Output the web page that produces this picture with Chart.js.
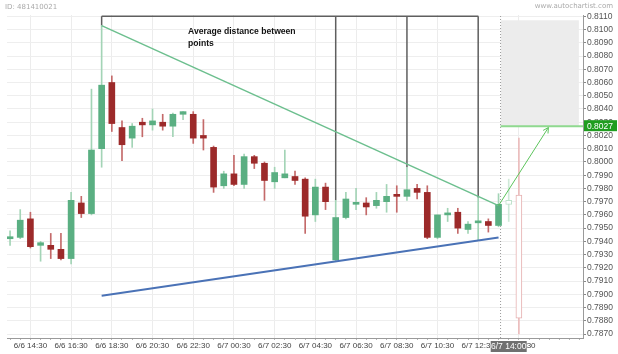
<!DOCTYPE html>
<html>
<head>
<meta charset="utf-8">
<script src="https://cdn.jsdelivr.net/npm/chart.js@4.4.1/dist/chart.umd.min.js"></script>
<style>
  html, body { margin: 0; padding: 0; background: #fff; }
  #wrap { width: 618px; height: 354px; position: relative; }
</style>
</head>
<body>
<div id="wrap"><canvas id="priceChart" width="618" height="354"></canvas></div>
<script>
// --- données (bougies 30 min, 6/6 13:30 -> 6/7 13:30) ---
const opens  = [0.7942, 0.7943, 0.7957, 0.7937, 0.7937, 0.7934, 0.7927, 0.7969, 0.7961, 0.8010,
                0.8060, 0.8026, 0.8018, 0.8030, 0.8028, 0.8030, 0.8027, 0.8036, 0.8036, 0.8020,
                0.8011, 0.7982, 0.7991, 0.7983, 0.8004, 0.7999, 0.7985, 0.7988, 0.7989, 0.7987,
                0.7960, 0.7981, 0.7926, 0.7958, 0.7968, 0.7969, 0.7967, 0.7970, 0.7975, 0.7974,
                0.7980, 0.7977, 0.7943, 0.7960, 0.7962, 0.7949, 0.7954, 0.7955, 0.7952];
const highs  = [0.7948, 0.7964, 0.7962, 0.7940, 0.7946, 0.7946, 0.7977, 0.7974, 0.8055, 0.8103,
                0.8065, 0.8031, 0.8029, 0.8033, 0.8040, 0.8036, 0.8037, 0.8038, 0.8038, 0.8032,
                0.8012, 0.7993, 0.8005, 0.8006, 0.8005, 0.8000, 0.7996, 0.8009, 0.7993, 0.7988,
                0.7987, 0.7984, 0.7971, 0.7977, 0.7980, 0.7973, 0.7977, 0.7983, 0.7982, 0.7996,
                0.7983, 0.7982, 0.7960, 0.7965, 0.7965, 0.7955, 0.7973, 0.7957, 0.7976];
const lows   = [0.7937, 0.7942, 0.7935, 0.7925, 0.7927, 0.7926, 0.7923, 0.7958, 0.7960, 0.7996,
                0.8023, 0.8001, 0.8011, 0.8019, 0.8024, 0.8024, 0.8019, 0.8032, 0.8014, 0.8009,
                0.7977, 0.7980, 0.7982, 0.7980, 0.7995, 0.7971, 0.7980, 0.7988, 0.7983, 0.7946,
                0.7955, 0.7964, 0.7925, 0.7957, 0.7964, 0.7960, 0.7965, 0.7962, 0.7962, 0.7971,
                0.7972, 0.7942, 0.7942, 0.7955, 0.7946, 0.7946, 0.7941, 0.7947, 0.7951];
const closes = [0.7943, 0.7956, 0.7936, 0.7939, 0.7934, 0.7927, 0.7971, 0.7961, 0.8009, 0.8058,
                0.8029, 0.8013, 0.8027, 0.8028, 0.8031, 0.8027, 0.8036, 0.8038, 0.8018, 0.8018,
                0.7981, 0.7991, 0.7983, 0.8004, 0.7999, 0.7986, 0.7992, 0.7991, 0.7986, 0.7959,
                0.7981, 0.7970, 0.7958, 0.7972, 0.7969, 0.7966, 0.7971, 0.7974, 0.7974, 0.7979,
                0.7977, 0.7943, 0.7960, 0.7961, 0.7950, 0.7953, 0.7955, 0.7952, 0.7968];

// bougies "fantômes" après 6/7 14:00
const ghostOpens  = [0.7968, 0.7975];
const ghostHighs  = [0.7987, 0.8018];
const ghostLows   = [0.7955, 0.7870];
const ghostCloses = [0.7971, 0.7882];

// lignes du triangle (x = index de bougie)
const upperTrend = [{ x: 9, y: 0.8103 }, { x: 48, y: 0.7967 }];
const lowerTrend = [{ x: 9, y: 0.7899 }, { x: 48, y: 0.7943 }];
const pointLines = [
  [{ x: 9, y: 0.8110 }, { x: 9, y: 0.8103 }],
  [{ x: 32, y: 0.8110 }, { x: 32, y: 0.7971 }],
  [{ x: 39, y: 0.8110 }, { x: 39, y: 0.7996 }],
  [{ x: 46, y: 0.8110 }, { x: 46, y: 0.7973 }]
];
const topLine = [{ x: 9, y: 0.8110 }, { x: 46, y: 0.8110 }];
const forecastArrow = [{ x: 48, y: 0.7967 }, { x: 52.9, y: 0.8026 }];
const targetPrice = 0.8027;
const forecastZoneTop = 0.8107;
const nowIndex = 48.2;

// axes
const xTickIndex  = [2, 6, 10, 14, 18, 22, 26, 30, 34, 38, 42, 46, 50];
const xTickLabels = ['6/6 14:30', '6/6 16:30', '6/6 18:30', '6/6 20:30', '6/6 22:30', '6/7 00:30',
                     '6/7 02:30', '6/7 04:30', '6/7 06:30', '6/7 08:30', '6/7 10:30', '6/7 12:30', '6/7 14:30'];
const yTicks = [0.7870, 0.7880, 0.7890, 0.7900, 0.7910, 0.7920, 0.7930, 0.7940, 0.7950, 0.7960,
                0.7970, 0.7980, 0.7990, 0.8000, 0.8010, 0.8020, 0.8030, 0.8040, 0.8050, 0.8060,
                0.8070, 0.8080, 0.8090, 0.8100, 0.8110];
const nowLabel = '6/7 14:00';

const X_MIN = -0.3, X_MAX = 56.3;
const Y_MIN = 0.7867, Y_MAX = 0.8111;

const GREEN = '#5aaf82', RED = '#9c2a2a';
const GREEN_WICK = '#a3d4b6', RED_WICK = '#c46a6a';

const bodies = opens.map((o, i) => ({ x: i, y: [o, closes[i]] }));
const wicks = highs.map((h, i) => ({ x: i, y: [lows[i], h] }));
const ghostBodies = ghostOpens.map((o, i) => ({ x: 49 + i, y: [o, ghostCloses[i]] }));
const ghostWicks = ghostHighs.map((h, i) => ({ x: 49 + i, y: [ghostLows[i], h] }));

function isUp(i) { return closes[i] >= opens[i]; }
function ghostUp(i) { return ghostCloses[i] >= ghostOpens[i]; }

function lineSet(data, color, width, order, extra) {
  return Object.assign({
    type: 'line', data: data, borderColor: color, borderWidth: width,
    pointRadius: 0, fill: false, tension: 0, order: order
  }, extra || {});
}

// --- textes, étiquettes et flèche ---
const overlayPlugin = {
  id: 'overlay',
  afterDraw(chart) {
    const c = chart.ctx;
    const xs = chart.scales.x, ys = chart.scales.y;
    c.save();

    // tête de flèche
    const p0 = { x: xs.getPixelForValue(forecastArrow[0].x), y: ys.getPixelForValue(forecastArrow[0].y) };
    const p1 = { x: xs.getPixelForValue(forecastArrow[1].x), y: ys.getPixelForValue(forecastArrow[1].y) };
    const ang = Math.atan2(p1.y - p0.y, p1.x - p0.x);
    c.strokeStyle = '#5cc45c';
    c.lineWidth = 1;
    c.beginPath();
    c.moveTo(p1.x - 6 * Math.cos(ang - 0.5), p1.y - 6 * Math.sin(ang - 0.5));
    c.lineTo(p1.x, p1.y);
    c.lineTo(p1.x - 6 * Math.cos(ang + 0.5), p1.y - 6 * Math.sin(ang + 0.5));
    c.stroke();

    // étiquette du prix cible
    const ty = ys.getPixelForValue(targetPrice);
    c.fillStyle = '#1f9d1f';
    c.fillRect(chart.chartArea.right + 1, ty - 6, 33, 11);
    c.fillStyle = '#fff';
    c.font = '8.5px "Liberation Sans", Arial, sans-serif';
    c.textBaseline = 'middle';
    c.textAlign = 'left';
    c.fillText(targetPrice.toFixed(4), chart.chartArea.right + 4, ty);

    // étiquette "maintenant" sur l'axe x
    const nx = xs.getPixelForValue(49);
    c.fillStyle = '#707070';
    c.fillRect(nx - 18, chart.chartArea.bottom + 3, 36, 11);
    c.fillStyle = '#fff';
    c.textAlign = 'center';
    c.fillText(nowLabel, nx, chart.chartArea.bottom + 9);

    // annotation
    c.fillStyle = '#111';
    c.font = 'bold 8.6px "Liberation Sans", Arial, sans-serif';
    c.textAlign = 'left';
    c.fillText('Average distance between', 188, 32);
    c.fillText('points', 188, 44);

    // textes d'en-tête
    c.fillStyle = '#aaa';
    c.font = '7px "DejaVu Sans", sans-serif';
    c.fillText('ID: 481410021', 5, 7);
    c.textAlign = 'right';
    c.fillText('www.autochartist.com', 613, 6);
    c.restore();
  }
};

document.addEventListener('DOMContentLoaded', function() {
  const canvas = document.getElementById('priceChart');
  const ctx = canvas.getContext('2d');

  new Chart(ctx, {
    type: 'bar',
    data: {
      datasets: [
        // zone de prévision grise
        lineSet([{ x: nowIndex, y: forecastZoneTop }, { x: 55.9, y: forecastZoneTop }], 'rgba(0,0,0,0)', 0, 20,
                { fill: { value: targetPrice }, backgroundColor: '#ececec' }),
        // ligne pointillée "maintenant"
        lineSet([{ x: nowIndex, y: Y_MIN }, { x: nowIndex, y: Y_MAX }], '#9a9a9a', 1, 19, { borderDash: [1, 2] }),
        // lignes des points
        lineSet(topLine, '#5f5f5f', 1.5, 15),
        lineSet(pointLines[0], '#5f5f5f', 1.5, 15),
        lineSet(pointLines[1], '#5f5f5f', 1.5, 15),
        lineSet(pointLines[2], '#5f5f5f', 1.5, 15),
        lineSet(pointLines[3], '#5f5f5f', 1.5, 15),
        {
          type: 'bar', data: ghostWicks, grouped: false, barThickness: 1, order: 12,
          backgroundColor: ctx => ghostUp(ctx.dataIndex) ? '#cfe9d8' : '#ebbcbc'
        },
        {
          type: 'bar', data: ghostBodies, grouped: false, barThickness: 6, order: 11,
          backgroundColor: '#fff', borderWidth: 1, borderSkipped: false, minBarLength: 2,
          borderColor: ctx => ghostUp(ctx.dataIndex) ? '#bfe2cb' : '#e6b0b0'
        },
        {
          type: 'bar', data: wicks, grouped: false, barThickness: 1, order: 6,
          backgroundColor: ctx => isUp(ctx.dataIndex) ? GREEN_WICK : RED_WICK
        },
        {
          type: 'bar', data: bodies, grouped: false, barThickness: 6, order: 5, minBarLength: 2,
          backgroundColor: ctx => isUp(ctx.dataIndex) ? GREEN : RED
        },
        // triangle
        lineSet(upperTrend, '#6cbf8e', 1.5, 2),
        lineSet(lowerTrend, '#4a72b6', 2, 2),
        // cible
        lineSet([{ x: nowIndex, y: targetPrice }, { x: X_MAX, y: targetPrice }], '#8fd98f', 2, 3),
        lineSet(forecastArrow, '#5cc45c', 1, 1)
      ]
    },
    options: {
      responsive: false,
      animation: false,
      layout: { padding: { top: 15, left: 7, right: 0, bottom: 0 } },
      plugins: { legend: { display: false }, tooltip: { enabled: false } },
      scales: {
        x: {
          type: 'linear', min: X_MIN, max: X_MAX, offset: false,
          afterBuildTicks: scale => {
            const t = [];
            for (let i = 0; i <= 56; i++) t.push({ value: i });
            scale.ticks = t;
          },
          afterFit: scale => { scale.height = 16; },
          grid: {
            offset: false,
            color: c => xTickIndex.includes(c.tick && c.tick.value) ? '#ececec' : 'rgba(0,0,0,0)',
            tickColor: '#b5b5b5', tickLength: 2
          },
          border: { display: true, color: '#9a9a9a', width: 1 },
          ticks: {
            autoSkip: false, maxRotation: 0, padding: 1,
            color: '#444', font: { family: '"Liberation Sans", Arial, sans-serif', size: 8 },
            callback: v => { const k = xTickIndex.indexOf(v); return k >= 0 ? xTickLabels[k] : ''; }
          }
        },
        y: {
          type: 'linear', position: 'right', min: Y_MIN, max: Y_MAX,
          afterBuildTicks: scale => { scale.ticks = yTicks.map(v => ({ value: v })); },
          afterFit: scale => { scale.width = 35; },
          grid: { color: '#eeeeee', tickColor: '#888', tickLength: 3 },
          border: { display: true, color: '#9a9a9a', width: 1 },
          ticks: {
            padding: 1, color: '#555',
            font: { family: '"Liberation Sans", Arial, sans-serif', size: 8.5 },
            callback: v => v.toFixed(4)
          }
        }
      }
    },
    plugins: [overlayPlugin]
  });
});
</script>
</body>
</html>
